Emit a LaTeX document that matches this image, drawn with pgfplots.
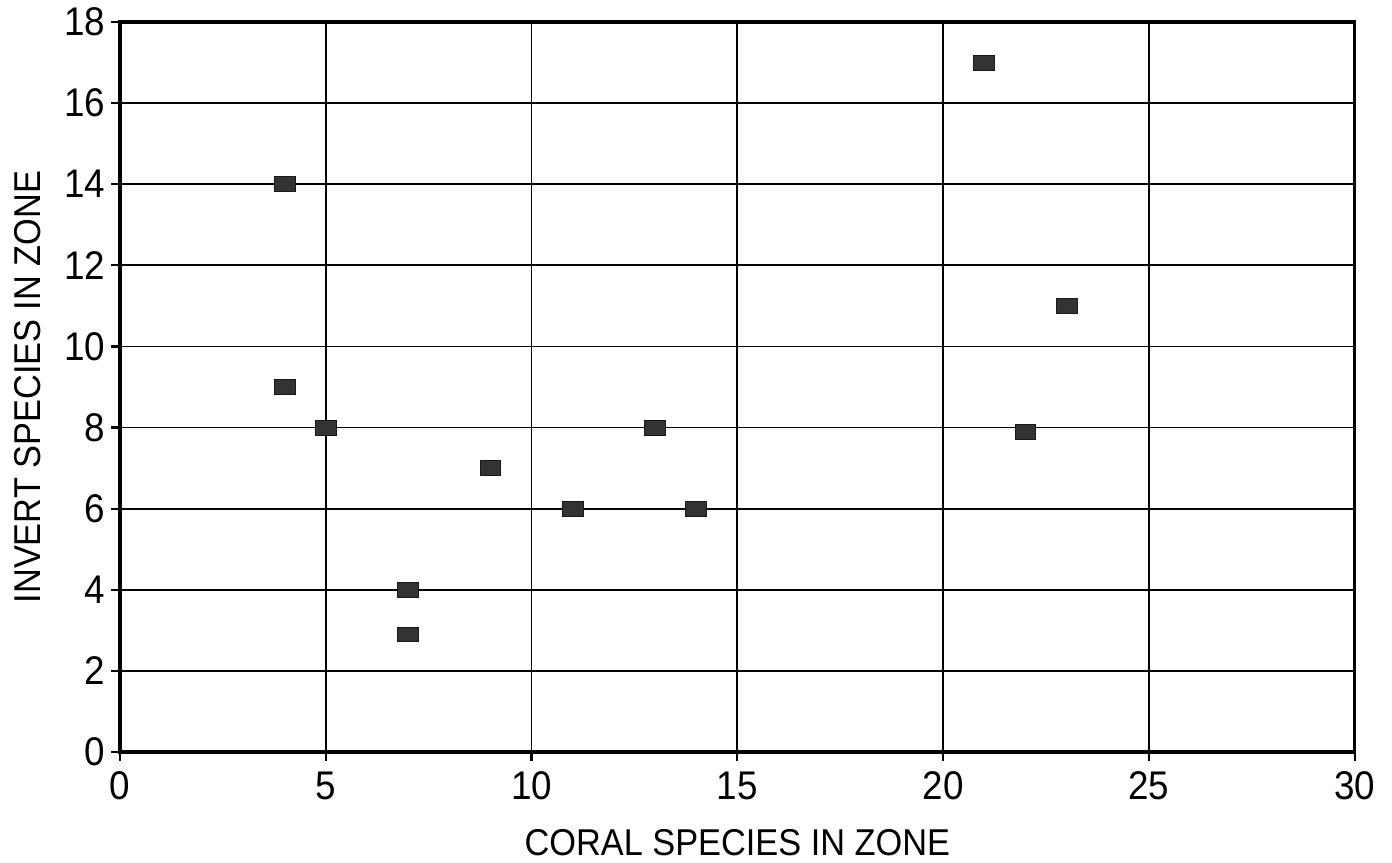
\documentclass[border=0pt]{standalone}
\usepackage{fontspec}
\setmainfont[FakeStretch=0.92]{Liberation Sans}
\usepackage{pgfplots}
\pgfplotsset{compat=1.18}
\begin{document}
\begin{tikzpicture}
\path[use as bounding box] (-90pt,-83.25pt) rectangle (954pt,564pt);
\begin{axis}[
  scale only axis,
  width=926pt, height=547.5pt,
  xmin=0, xmax=30, ymin=0, ymax=18,
  xtick={0,5,...,30}, ytick={0,2,...,18},
  grid=major,
  major grid style={black, line width=1.4pt},
  axis line style={black, line width=2.3pt},
  tick style={black, line width=1.6pt},
  tick align=outside,
  major tick length=6.5pt,
  xtick pos=bottom, ytick pos=left,
  font=\fontsize{28}{30}\selectfont,
  tick label style={font=\fontsize{30}{32}\selectfont},
  xticklabel style={yshift=-5pt},
  yticklabel style={xshift=-1pt},
  /pgf/number format/assume math mode=true,
  xlabel={CORAL SPECIES IN ZONE},
  ylabel={INVERT SPECIES IN ZONE},
  xlabel style={at={(axis description cs:0.5,-0.124)}, anchor=center},
  ylabel style={at={(axis description cs:-0.0745,0.5)}, anchor=center},
]
\addplot[only marks, mark=square*, mark size=5.6pt,
  mark options={xscale=1.4, fill=black!80, draw=black!90, line width=0.6pt}]
  coordinates {
    (4,14) (4,9) (5,8) (7,4) (7,2.9) (9,7) (11,6) (13,8) (14,6)
    (21,17) (22,7.9) (23,11)
  };
\end{axis}
\end{tikzpicture}
\end{document}
